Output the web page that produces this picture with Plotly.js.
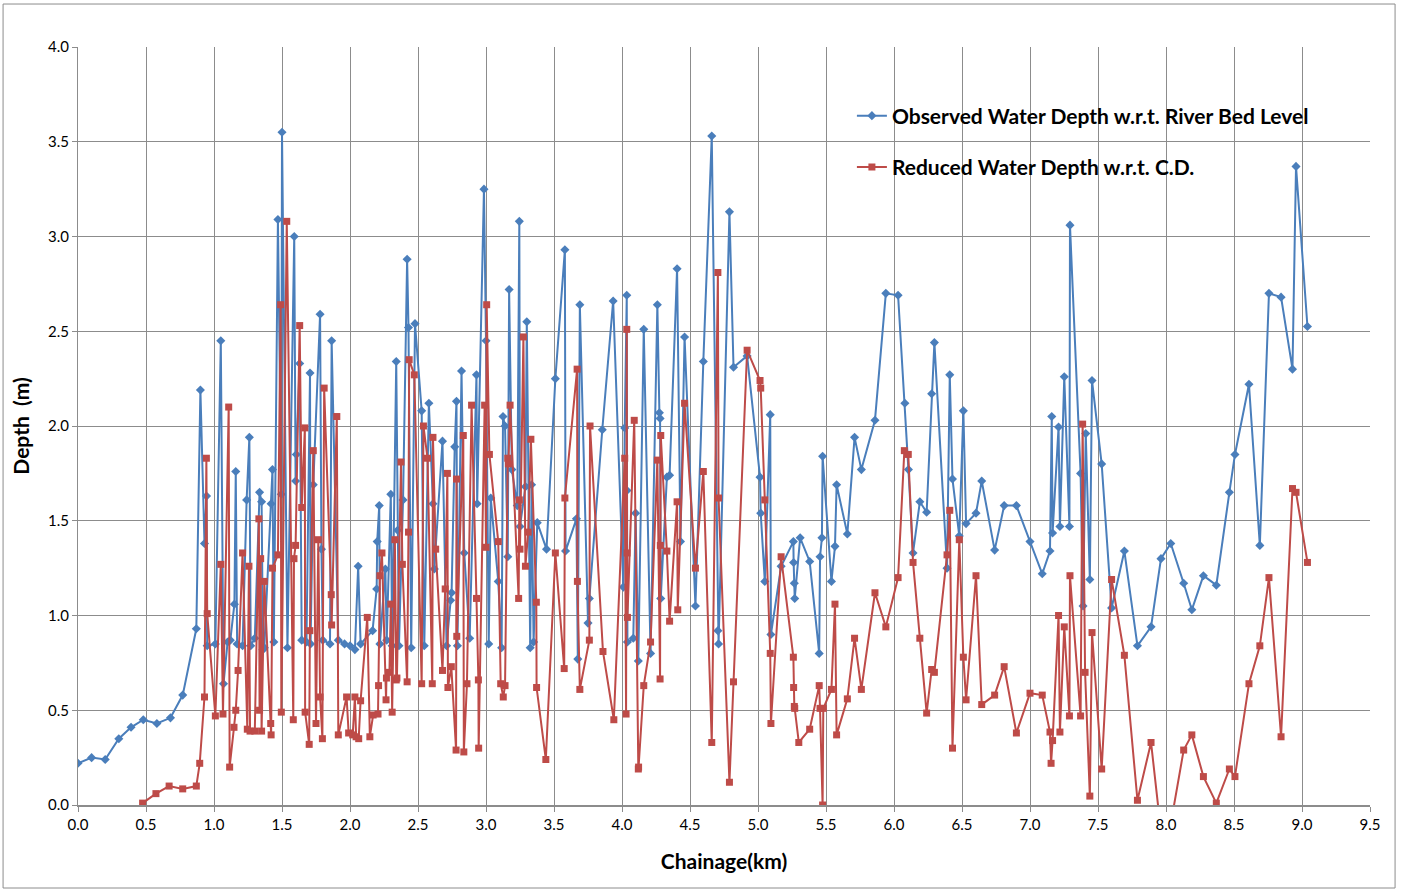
<!DOCTYPE html>
<html>
<head>
<meta charset="utf-8">
<script src="https://cdn.plot.ly/plotly-3.0.1.min.js"></script>
<style>html,body{margin:0;padding:0;background:#fff;}#chart{width:1402px;height:892px;}</style>
</head>
<body>
<div id="chart"></div>
<script>
// Observed Water Depth w.r.t. River Bed Level
const blueX = [0,0.10,0.20,0.30,0.39,0.48,0.58,0.68,0.77,0.87,0.90,0.93,0.945,0.95,1.01,1.05,1.07,1.10,1.12,1.15,1.16,1.17,1.21,1.24,1.26,1.27,1.30,1.335,1.35,1.36,1.37,1.42,1.43,1.44,1.47,1.495,1.50,1.54,1.59,1.60,1.605,1.63,1.645,1.68,1.706,1.71,1.73,1.78,1.79,1.80,1.853,1.865,1.914,1.96,2.00,2.036,2.06,2.078,2.166,2.196,2.20,2.215,2.22,2.26,2.27,2.30,2.31,2.34,2.35,2.36,2.39,2.42,2.43,2.45,2.478,2.527,2.546,2.58,2.61,2.62,2.68,2.71,2.74,2.747,2.77,2.783,2.79,2.82,2.84,2.88,2.93,2.935,2.985,3.00,3.02,3.035,3.09,3.115,3.125,3.14,3.16,3.17,3.19,3.23,3.245,3.25,3.29,3.30,3.325,3.335,3.35,3.377,3.445,3.51,3.58,3.585,3.665,3.675,3.69,3.75,3.76,3.855,3.935,4.01,4.02,4.035,4.037,4.04,4.083,4.10,4.12,4.16,4.21,4.26,4.275,4.28,4.285,4.33,4.35,4.405,4.43,4.46,4.54,4.598,4.66,4.705,4.71,4.79,4.82,4.92,5.015,5.02,5.05,5.09,5.095,5.17,5.26,5.262,5.267,5.27,5.31,5.38,5.45,5.456,5.47,5.475,5.54,5.566,5.578,5.657,5.71,5.76,5.86,5.94,6.03,6.08,6.106,6.14,6.19,6.24,6.277,6.297,6.39,6.41,6.43,6.48,6.51,6.53,6.603,6.645,6.74,6.81,6.90,7.00,7.09,7.147,7.16,7.166,7.21,7.22,7.252,7.29,7.294,7.372,7.39,7.41,7.44,7.456,7.527,7.60,7.694,7.79,7.89,7.963,8.035,8.13,8.19,8.275,8.37,8.466,8.507,8.61,8.69,8.757,8.846,8.93,8.956,9.04];
const blueY = [0.22,0.25,0.24,0.35,0.41,0.45,0.43,0.46,0.58,0.93,2.19,1.38,1.63,0.84,0.85,2.45,0.64,0.86,0.87,1.06,1.76,0.85,0.84,1.61,1.94,0.84,0.88,1.65,1.60,0.82,0.83,1.59,1.77,0.86,3.09,1.64,3.55,0.83,3.00,1.71,1.85,2.33,0.87,0.86,2.28,0.85,1.69,2.59,1.35,0.87,0.85,2.45,0.87,0.85,0.84,0.82,1.26,0.85,0.92,1.14,1.39,1.58,0.85,1.245,0.87,1.64,0.84,2.34,1.45,0.84,1.61,2.88,2.52,0.83,2.54,2.08,0.84,2.12,1.59,1.245,1.92,0.84,1.08,1.12,1.89,2.13,0.84,2.29,1.33,0.88,2.27,1.59,3.25,2.45,0.85,1.62,1.18,0.83,2.05,2.00,1.31,2.72,1.77,1.58,3.08,1.47,1.68,2.55,0.83,1.69,0.86,1.49,1.35,2.25,2.93,1.34,1.51,0.77,2.64,0.96,1.09,1.98,2.66,1.15,1.99,2.69,1.66,0.86,0.88,1.54,0.76,2.51,0.80,2.64,2.07,2.04,1.09,1.73,1.74,2.83,1.39,2.47,1.05,2.34,3.53,0.92,0.85,3.13,2.31,2.37,1.73,1.54,1.18,2.06,0.90,1.26,1.39,1.28,1.17,1.09,1.41,1.285,0.80,1.31,1.41,1.84,1.18,1.365,1.69,1.43,1.94,1.77,2.03,2.70,2.69,2.12,1.77,1.33,1.60,1.545,2.17,2.44,1.25,2.27,1.72,1.42,2.08,1.485,1.54,1.71,1.345,1.58,1.58,1.39,1.22,1.34,2.05,1.435,1.995,1.47,2.26,1.47,3.06,1.75,1.05,1.96,1.19,2.24,1.80,1.04,1.34,0.84,0.94,1.30,1.38,1.17,1.03,1.21,1.16,1.65,1.85,2.22,1.37,2.70,2.68,2.30,3.37,2.525];

// Reduced Water Depth w.r.t. C.D.
const redX = [0.475,0.573,0.67,0.77,0.87,0.895,0.93,0.944,0.95,1.01,1.05,1.066,1.108,1.115,1.147,1.16,1.177,1.21,1.245,1.257,1.265,1.30,1.33,1.335,1.343,1.35,1.37,1.417,1.42,1.43,1.47,1.49,1.495,1.535,1.583,1.588,1.60,1.63,1.645,1.668,1.67,1.70,1.705,1.73,1.75,1.767,1.78,1.797,1.81,1.862,1.865,1.903,1.914,1.975,1.99,2.02,2.036,2.045,2.064,2.078,2.127,2.146,2.17,2.206,2.21,2.22,2.235,2.265,2.268,2.29,2.30,2.31,2.33,2.34,2.345,2.375,2.385,2.42,2.43,2.435,2.473,2.527,2.54,2.57,2.605,2.61,2.63,2.68,2.70,2.716,2.72,2.745,2.78,2.783,2.785,2.833,2.837,2.86,2.894,2.93,2.944,2.946,2.99,3.00,3.005,3.025,3.09,3.108,3.127,3.14,3.16,3.165,3.177,3.24,3.245,3.25,3.275,3.29,3.31,3.33,3.37,3.372,3.44,3.51,3.575,3.58,3.67,3.672,3.69,3.76,3.765,3.86,3.94,4.02,4.03,4.035,4.037,4.04,4.09,4.12,4.122,4.16,4.21,4.26,4.28,4.282,4.285,4.33,4.35,4.405,4.41,4.46,4.54,4.598,4.66,4.705,4.71,4.79,4.82,4.92,5.015,5.02,5.05,5.09,5.095,5.17,5.26,5.262,5.267,5.27,5.30,5.38,5.45,5.456,5.475,5.48,5.54,5.566,5.578,5.657,5.71,5.76,5.86,5.94,6.03,6.076,6.105,6.14,6.19,6.24,6.277,6.297,6.39,6.41,6.43,6.48,6.51,6.53,6.603,6.645,6.74,6.81,6.90,7.00,7.09,7.147,7.155,7.166,7.21,7.22,7.252,7.29,7.294,7.372,7.387,7.405,7.44,7.456,7.527,7.60,7.694,7.79,7.89,7.963,8.035,8.13,8.19,8.275,8.37,8.466,8.507,8.61,8.69,8.757,8.846,8.93,8.956,9.04];
const redY = [0.01,0.06,0.10,0.085,0.10,0.22,0.57,1.83,1.01,0.47,1.27,0.48,2.10,0.20,0.41,0.50,0.71,1.33,0.40,1.26,0.39,0.39,1.51,0.50,1.30,0.39,1.18,0.43,0.37,1.25,1.32,2.64,0.49,3.08,0.45,1.30,1.37,2.53,1.57,1.99,0.49,0.32,0.92,1.87,0.43,1.40,0.57,0.35,2.20,1.11,0.95,2.05,0.37,0.57,0.38,0.37,0.57,0.36,0.35,0.55,0.99,0.36,0.475,0.48,0.63,1.21,1.33,0.555,0.67,0.70,1.06,0.49,1.40,0.66,0.67,1.81,1.27,0.65,1.44,2.35,2.27,0.64,2.00,1.83,0.64,1.94,1.35,0.71,1.14,1.75,0.62,0.73,0.29,1.72,0.89,1.95,0.28,0.64,2.11,1.09,0.66,0.30,2.11,1.36,2.64,1.85,1.39,0.64,0.57,0.63,1.83,1.80,2.11,1.09,1.61,1.35,2.47,1.26,1.44,1.93,1.07,0.62,0.24,1.33,0.72,1.62,2.30,1.18,0.61,0.87,2.00,0.81,0.45,1.83,0.48,2.51,1.33,0.99,2.03,0.19,0.20,0.63,0.86,1.82,0.665,1.37,1.95,1.34,0.97,1.60,1.03,2.12,1.25,1.76,0.33,2.81,1.62,0.12,0.65,2.40,2.24,2.20,1.61,0.80,0.43,1.31,0.78,0.62,0.52,0.51,0.33,0.40,0.63,0.51,0.00,0.51,0.61,1.06,0.37,0.56,0.88,0.61,1.12,0.94,1.20,1.87,1.85,1.28,0.88,0.485,0.715,0.70,1.32,1.555,0.30,1.40,0.78,0.555,1.21,0.53,0.58,0.73,0.38,0.59,0.58,0.385,0.22,0.34,1.00,0.385,0.94,0.47,1.21,0.47,2.01,0.70,0.047,0.91,0.19,1.19,0.79,0.025,0.33,-0.14,-0.10,0.29,0.37,0.15,0.01,0.19,0.15,0.64,0.84,1.20,0.36,1.67,1.65,1.28];

const xTicks = [0,0.5,1,1.5,2,2.5,3,3.5,4,4.5,5,5.5,6,6.5,7,7.5,8,8.5,9,9.5];
const yTicks = [0,0.5,1,1.5,2,2.5,3,3.5,4];

const FONT = 'Lato, "Open Sans", "Liberation Sans", sans-serif';
const GRID = '#8c8c8c';

const traces = [
  {
    x: blueX, y: blueY, type: 'scatter', mode: 'lines+markers',
    name: 'Observed Water Depth w.r.t. River Bed Level',
    legendgroup: 'a',
    line: {color: '#4A7EBB', width: 2},
    marker: {symbol: 'diamond', size: 7, color: '#4A7EBB'}
  },
  {
    x: redX, y: redY, type: 'scatter', mode: 'lines+markers',
    name: 'Reduced Water Depth w.r.t. C.D.',
    legendgroup: 'b',
    line: {color: '#BE4B48', width: 2},
    marker: {symbol: 'square', size: 7, color: '#BE4B48'}
  }
];

const layout = {
  width: 1402, height: 892,
  paper_bgcolor: '#ffffff', plot_bgcolor: '#ffffff',
  margin: {l: 78, r: 32, t: 47, b: 87},
  font: {family: FONT, color: '#000'},
  showlegend: true,
  legend: {
    x: 0.599, y: 0.936, xanchor: 'left', yanchor: 'top',
    bgcolor: 'rgba(255,255,255,0)',
    font: {family: FONT, size: 21, color: '#000', weight: 'bold'},
    tracegroupgap: 21
  },
  xaxis: {
    range: [0, 9.5], tickvals: xTicks, tickformat: '.1f',
    showgrid: true, gridcolor: GRID, gridwidth: 1,
    showline: true, linecolor: GRID, linewidth: 2,
    ticks: 'outside', ticklen: 5, tickcolor: GRID,
    tickfont: {family: FONT, size: 15, color: '#000'},
    zeroline: false, automargin: false,
    title: {text: 'Chainage(km)', font: {family: FONT, size: 21, color: '#000', weight: 'bold'}, standoff: 22}
  },
  yaxis: {
    range: [0, 4], tickvals: yTicks, tickformat: '.1f',
    showgrid: true, gridcolor: GRID, gridwidth: 1,
    showline: true, linecolor: GRID, linewidth: 1,
    ticks: 'outside', ticklen: 5, tickcolor: GRID,
    tickfont: {family: FONT, size: 15, color: '#000'},
    zeroline: false, automargin: false,
    title: {text: 'Depth  (m)', font: {family: FONT, size: 21, color: '#000', weight: 'bold'}, standoff: 12}
  },
  shapes: [
    {type: 'rect', xref: 'paper', yref: 'paper', x0: -0.058, x1: 1.0194, y0: -0.1095, y1: 1.0567,
     line: {color: '#8c8c8c', width: 1}, fillcolor: 'rgba(0,0,0,0)', layer: 'below'}
  ]
};

Plotly.newPlot('chart', traces, layout, {displayModeBar: false, staticPlot: true});
</script>
</body>
</html>
